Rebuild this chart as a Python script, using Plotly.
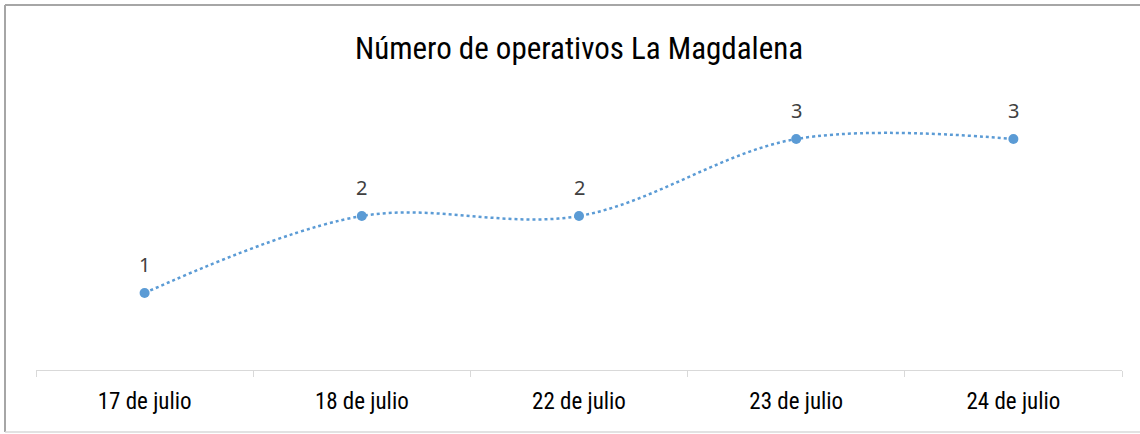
import plotly.graph_objects as go

categories = ["17 de julio", "18 de julio", "22 de julio", "23 de julio", "24 de julio"]
values = [1, 2, 2, 3, 3]
title_text = "Número de operativos La Magdalena"

FONT = "Liberation Sans Narrow, Roboto Condensed, Roboto, sans-serif"
W, H = 1140, 434
L, R, T, B = 36, 18, 62, 64
pw, ph = W - L - R, H - T - B


def px(p):
    return (p - L) / pw


def py(p):
    return (T + ph - p) / ph


fig = go.Figure()
fig.add_trace(go.Scatter(
    x=categories, y=values,
    mode="lines+markers",
    line=dict(color="#5B9BD5", width=2.5, dash="dot", shape="spline", smoothing=1.0),
    marker=dict(color="#5B9BD5", size=10),
    cliponaxis=False,
    hoverinfo="skip",
))

annotations = [
    dict(x=c, y=v, xref="x", yref="y", text=str(v), showarrow=False, yshift=29,
         xanchor="center", yanchor="middle",
         font=dict(family="Noto Sans, Open Sans, sans-serif", size=20, color="#404040"))
    for c, v in zip(categories, values)
]

shapes = [
    dict(type="line", xref="paper", yref="paper", x0=px(5), x1=px(5), y0=py(5), y1=py(432),
         line=dict(color="#A6A6A6", width=2)),
    dict(type="line", xref="paper", yref="paper", x0=px(5), x1=px(1150), y0=py(5), y1=py(5),
         line=dict(color="#A6A6A6", width=2)),
    dict(type="line", xref="paper", yref="paper", x0=px(5), x1=px(1150), y0=py(432), y1=py(432),
         line=dict(color="#D9D9D9", width=1.5)),
]

fig.update_layout(
    width=W, height=H,
    margin=dict(l=L, r=R, t=T, b=B),
    paper_bgcolor="white", plot_bgcolor="white",
    showlegend=False,
    title=dict(text=title_text, x=0.5, xref="paper", y=1 - 48 / H, yref="container",
               xanchor="center", yanchor="middle",
               font=dict(family=FONT, size=31, color="#000000")),
    xaxis=dict(type="category", showgrid=False, showline=True, linecolor="#D9D9D9", linewidth=1,
               ticks="outside", ticklen=6, tickcolor="#D9D9D9", tickson="boundaries",
               tickfont=dict(family=FONT, size=23, color="#000000"), ticklabelstandoff=10,
               range=[-0.5, 4.5], zeroline=False),
    yaxis=dict(range=[0, 4], visible=False, showgrid=False, zeroline=False),
    annotations=annotations,
    shapes=shapes,
)

fig.write_html("out.html", config={"displayModeBar": False},
               post_script="document.body.style.margin='0';document.body.style.padding='0';")
